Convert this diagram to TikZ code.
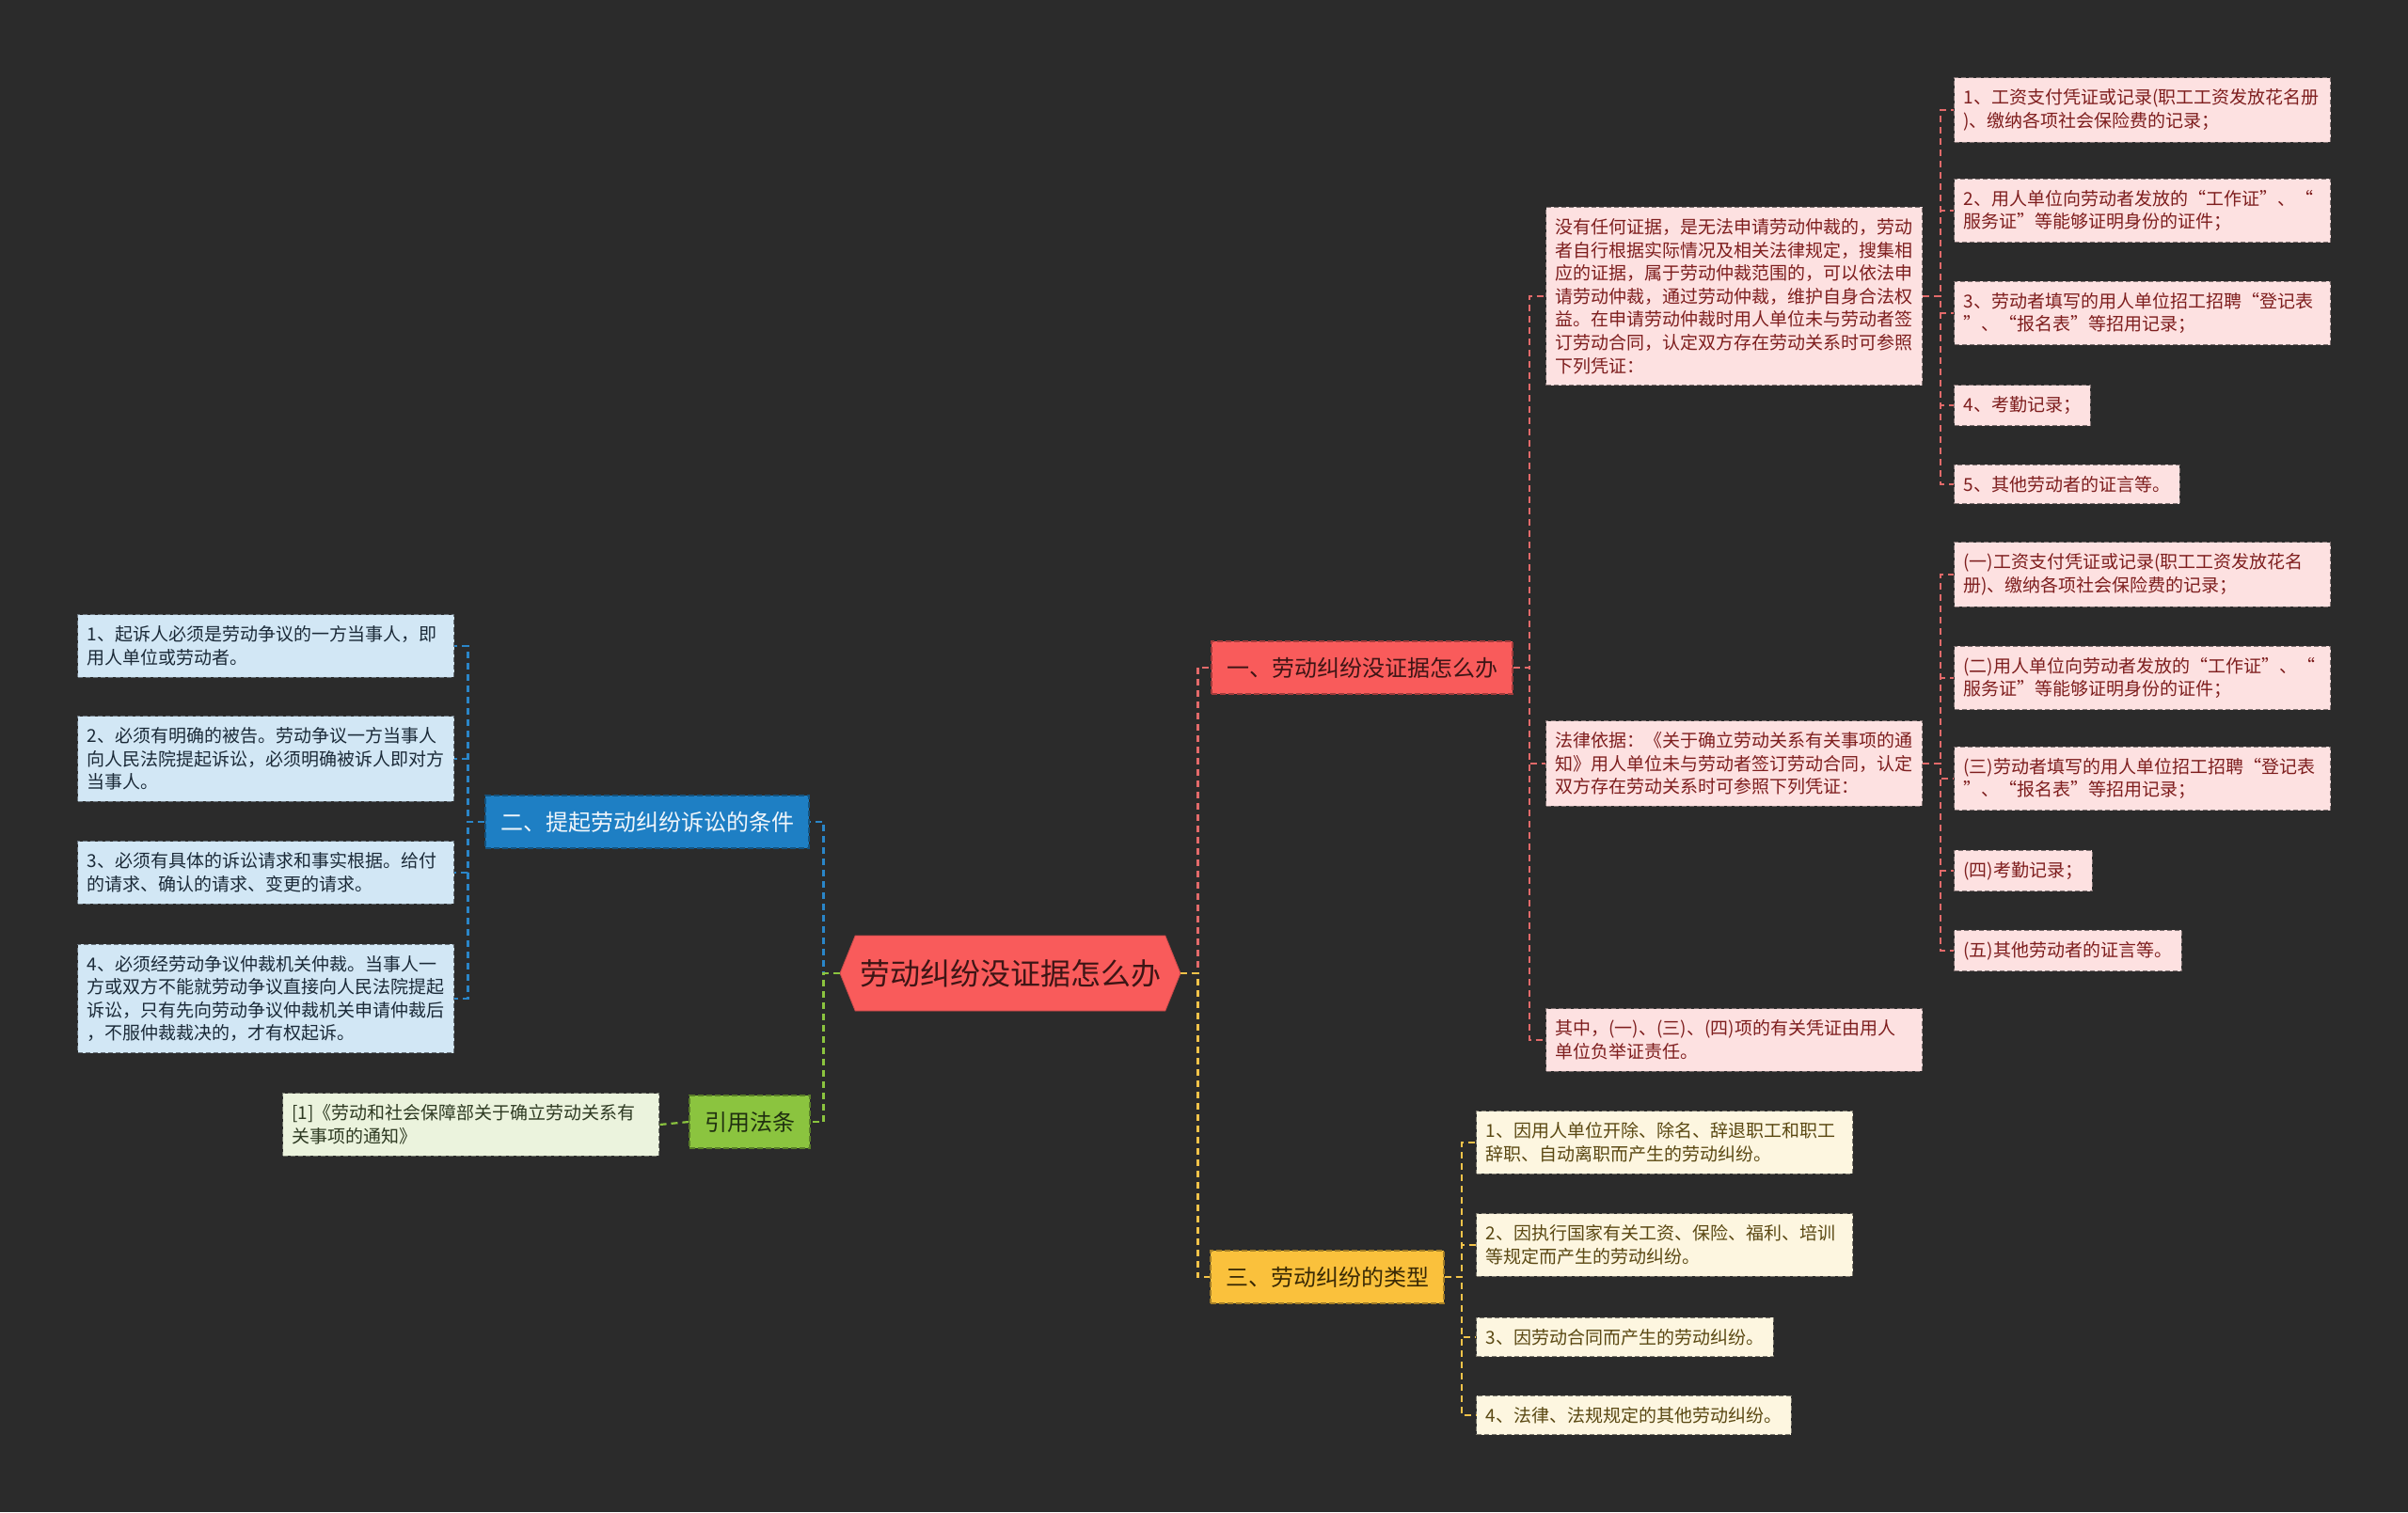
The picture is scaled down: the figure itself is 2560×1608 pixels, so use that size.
\documentclass[tikz,border=0pt]{standalone}
\usepackage{fontspec}
\setmainfont{Noto Sans CJK SC}
\usetikzlibrary{shapes.symbols}

\definecolor{bgdark}{HTML}{2B2B2B}
\definecolor{redfill}{HTML}{F95B5B}
\definecolor{redtext}{HTML}{3D1515}
\definecolor{redline}{HTML}{E36A6A}
\definecolor{pinkfill}{HTML}{FDE1E1}
\definecolor{pinktext}{HTML}{7E1E1E}
\definecolor{bluefill}{HTML}{1E7FC4}
\definecolor{bluetext}{HTML}{F0F6FB}
\definecolor{blueline}{HTML}{2A86C9}
\definecolor{bluelight}{HTML}{D2E7F5}
\definecolor{bluedeep}{HTML}{1B2A38}
\definecolor{greenfill}{HTML}{8BC43F}
\definecolor{greentext}{HTML}{203010}
\definecolor{greenlight}{HTML}{EBF3DD}
\definecolor{greendeep}{HTML}{2E3A22}
\definecolor{yellowfill}{HTML}{FAC13C}
\definecolor{yellowtext}{HTML}{3A2A05}
\definecolor{yellowline}{HTML}{F2C349}
\definecolor{yellowlight}{HTML}{FDF6E0}
\definecolor{yellowdeep}{HTML}{5A4812}

\begin{document}
\begin{tikzpicture}[x=0.5pt, y=-0.5pt,
  every node/.style={font=\fontsize{9.5}{12.3}\selectfont},
  root/.style={shape=signal, signal to=west and east, signal pointer angle=136,
    fill=redfill, draw=redfill!80!black, minimum width=181pt, minimum height=40pt,
    inner sep=0pt, text=redtext, font=\fontsize{16}{18}\selectfont},
  topic/.style={dashed, dash pattern=on 3pt off 1.5pt, line width=0.6pt,
    minimum height=28pt, inner xsep=8pt, inner ysep=0pt, font=\fontsize{12}{14}\selectfont},
  leaf/.style={dashed, dash pattern=on 2.5pt off 1.5pt, line width=0.5pt,
    align=left, inner xsep=5pt, inner ysep=6pt, anchor=west},
  wide/.style={text width=190pt},
  pinkleaf/.style={leaf, fill=pinkfill, draw=pinkfill!50!black, text=pinktext},
  blueleaf/.style={leaf, fill=bluelight, draw=bluelight!50!black, text=bluedeep},
  greenleaf/.style={leaf, fill=greenlight, draw=greenlight!50!black, text=greendeep},
  yellowleaf/.style={leaf, fill=yellowlight, draw=yellowlight!50!black, text=yellowdeep},
  link/.style={dashed, dash pattern=on 3.5pt off 2.5pt, line width=1.1pt},
]

% ===== Canvas =====
\fill[bgdark] (0,0) rectangle (2560,1608);
\useasboundingbox (0,0) rectangle (2560,1608);

% ===== Centre and main topics =====
\node[root] (root) at (1074,1035) {劳动纠纷没证据怎么办};

\node[topic, fill=redfill, draw=redfill!65!black, text=redtext] (br1) at (1448,710) {一、劳动纠纷没证据怎么办};
\node[topic, fill=bluefill, draw=bluefill!65!black, text=bluetext] (br2) at (688,874) {二、提起劳动纠纷诉讼的条件};
\node[topic, fill=greenfill, draw=greenfill!65!black, text=greentext] (br4) at (797,1193) {引用法条};
\node[topic, fill=yellowfill, draw=yellowfill!65!black, text=yellowtext] (br3) at (1411,1358) {三、劳动纠纷的类型};

% ===== Branch 1: no evidence =====
\node[pinkleaf, wide] (A) at (1643,315)
  {没有任何证据，是无法申请劳动仲裁的，劳动\\者自行根据实际情况及相关法律规定，搜集相\\应的证据，属于劳动仲裁范围的，可以依法申\\请劳动仲裁，通过劳动仲裁，维护自身合法权\\益。在申请劳动仲裁时用人单位未与劳动者签\\订劳动合同，认定双方存在劳动关系时可参照\\下列凭证：};
\node[pinkleaf, wide] (B) at (1643,812)
  {法律依据：《关于确立劳动关系有关事项的通\\知》用人单位未与劳动者签订劳动合同，认定\\双方存在劳动关系时可参照下列凭证：};
\node[pinkleaf, wide] (C) at (1643,1106)
  {其中，(一)、(三)、(四)项的有关凭证由用人\\单位负举证责任。};

% ----- evidence list -----
\node[pinkleaf, wide] (a1) at (2077,117) {1、工资支付凭证或记录(职工工资发放花名册\\)、缴纳各项社会保险费的记录；};
\node[pinkleaf, wide] (a2) at (2077,224) {2、用人单位向劳动者发放的“工作证”、“\\服务证”等能够证明身份的证件；};
\node[pinkleaf, wide] (a3) at (2077,333) {3、劳动者填写的用人单位招工招聘“登记表\\”、“报名表”等招用记录；};
\node[pinkleaf] (a4) at (2077,431) {4、考勤记录；};
\node[pinkleaf] (a5) at (2077,515) {5、其他劳动者的证言等。};

% ----- legal basis list -----
\node[pinkleaf, wide] (b1) at (2077,611) {(一)工资支付凭证或记录(职工工资发放花名\\册)、缴纳各项社会保险费的记录；};
\node[pinkleaf, wide] (b2) at (2077,721) {(二)用人单位向劳动者发放的“工作证”、“\\服务证”等能够证明身份的证件；};
\node[pinkleaf, wide] (b3) at (2077,828) {(三)劳动者填写的用人单位招工招聘“登记表\\”、“报名表”等招用记录；};
\node[pinkleaf] (b4) at (2077,926) {(四)考勤记录；};
\node[pinkleaf] (b5) at (2077,1011) {(五)其他劳动者的证言等。};

% ===== Branch 2: conditions for a lawsuit =====
\node[blueleaf, wide] (c1) at (82,687) {1、起诉人必须是劳动争议的一方当事人，即\\用人单位或劳动者。};
\node[blueleaf, wide] (c2) at (82,807) {2、必须有明确的被告。劳动争议一方当事人\\向人民法院提起诉讼，必须明确被诉人即对方\\当事人。};
\node[blueleaf, wide] (c3) at (82,928) {3、必须有具体的诉讼请求和事实根据。给付\\的请求、确认的请求、变更的请求。};
\node[blueleaf, wide] (c4) at (82,1062) {4、必须经劳动争议仲裁机关仲裁。当事人一\\方或双方不能就劳动争议直接向人民法院提起\\诉讼，只有先向劳动争议仲裁机关申请仲裁后\\，不服仲裁裁决的，才有权起诉。};

% ===== Cited regulation =====
\node[greenleaf, wide] (d1) at (300,1196) {[1]《劳动和社会保障部关于确立劳动关系有\\关事项的通知》};

% ===== Branch 3: types of dispute =====
\node[yellowleaf, wide] (e1) at (1569,1215) {1、因用人单位开除、除名、辞退职工和职工\\辞职、自动离职而产生的劳动纠纷。};
\node[yellowleaf, wide] (e2) at (1569,1324) {2、因执行国家有关工资、保险、福利、培训\\等规定而产生的劳动纠纷。};
\node[yellowleaf] (e3) at (1569,1422) {3、因劳动合同而产生的劳动纠纷。};
\node[yellowleaf] (e4) at (1569,1505) {4、法律、法规规定的其他劳动纠纷。};

% ===== Connectors =====
\draw[link, redline] (root.east) -- ++(18,0) |- (br1.west);
\draw[link, yellowline] (root.east) -- ++(18,0) |- (br3.west);
\draw[link, blueline] (root.west) -- ++(-17,0) |- (br2.east);
\draw[link, greenfill] (root.west) -- ++(-17,0) |- (br4.east);

\foreach \n in {A,B,C}
  \draw[link, redline] (br1.east) -- ++(17,0) |- (\n.west);
\foreach \n in {a1,a2,a3,a4,a5}
  \draw[link, redline] (A.east) -- ++(19,0) |- (\n.west);
\foreach \n in {b1,b2,b3,b4,b5}
  \draw[link, redline] (B.east) -- ++(19,0) |- (\n.west);
\foreach \n in {c1,c2,c3,c4}
  \draw[link, blueline] (br2.west) -- ++(-18,0) |- (\n.east);
\draw[link, greenfill] (br4.west) -- (d1.east);
\foreach \n in {e1,e2,e3,e4}
  \draw[link, yellowline] (br3.east) -- ++(18,0) |- (\n.west);

\end{tikzpicture}
\end{document}
